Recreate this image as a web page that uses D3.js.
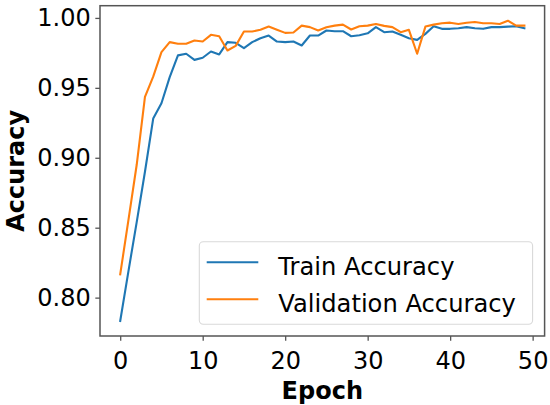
<!DOCTYPE html>
<html>
<head>
<meta charset="utf-8">
<script src="https://cdn.jsdelivr.net/npm/d3@7"></script>
<style>
  html, body { margin: 0; padding: 0; background: #fff; }
  svg { display: block; font-family: "DejaVu Sans", sans-serif; }
</style>
</head>
<body>
<svg id="chart" width="550" height="405"></svg>
<script>
const epochs = d3.range(0, 50);
const trainAccuracy = [0.7833, 0.819, 0.854, 0.890, 0.928, 0.939, 0.9577, 0.9732, 0.9744, 0.970,
  0.9715, 0.976, 0.9739, 0.9827, 0.9822, 0.9784, 0.9827, 0.9855, 0.9874, 0.9831,
  0.9827, 0.9831, 0.9803, 0.9874, 0.9874, 0.991, 0.9905, 0.9905, 0.9869, 0.9876,
  0.989, 0.9934, 0.9898, 0.9903, 0.9879, 0.9855, 0.9843, 0.9886, 0.994, 0.9922,
  0.9922, 0.9926, 0.9934, 0.9926, 0.9922, 0.9934, 0.9934, 0.9938, 0.994, 0.9926];
const valAccuracy = [0.8166, 0.8556, 0.895, 0.9435, 0.958, 0.9755, 0.9827, 0.9815, 0.9815, 0.9838,
  0.9831, 0.9879, 0.9869, 0.9767, 0.980, 0.9903, 0.9903, 0.9915, 0.9938, 0.9915,
  0.9893, 0.9896, 0.9945, 0.9934, 0.991, 0.9933, 0.9945, 0.9952, 0.9917, 0.994,
  0.9945, 0.9957, 0.9943, 0.9934, 0.9898, 0.9915, 0.9744, 0.9938, 0.9952, 0.9962,
  0.9966, 0.9957, 0.9966, 0.9971, 0.9962, 0.9962, 0.9957, 0.998, 0.9945, 0.9945];
const xTicks = [0, 10, 20, 30, 40, 50];
const yTicks = [0.80, 0.85, 0.90, 0.95, 1.00];
const seriesNames = ["Train Accuracy", "Validation Accuracy"];
const seriesColors = ["#1f77b4", "#ff7f0e"];

const svg = d3.select("#chart");
const plot = { left: 100, right: 544.6, top: 5.7, bottom: 336 };

const xMin = d3.min(epochs), xMax = d3.max(epochs);
const xPad = (xMax - xMin) * 0.05;
const x = d3.scaleLinear().domain([xMin - xPad, xMax + xPad]).range([plot.left, plot.right]);

const allY = trainAccuracy.concat(valAccuracy);
const yMin = d3.min(allY), yMax = d3.max(allY);
const yPad = (yMax - yMin) * 0.05;
const y = d3.scaleLinear().domain([yMin - yPad, yMax + yPad]).range([plot.bottom, plot.top]);

const tickLen = 4.67;
const axisColor = "#555";

// lines
const line = d3.line().x((d, i) => x(epochs[i])).y(d => y(d));
[trainAccuracy, valAccuracy].forEach((s, k) => {
  svg.append("path").datum(s)
    .attr("fill", "none")
    .attr("stroke", seriesColors[k])
    .attr("stroke-width", 2.1)
    .attr("stroke-linejoin", "round")
    .attr("stroke-linecap", "square")
    .attr("d", line);
});

// axes
const xAxis = svg.append("g")
  .attr("transform", `translate(0,${plot.bottom})`)
  .call(d3.axisBottom(x).tickValues(xTicks).tickSize(tickLen).tickPadding(11.3).tickFormat(d3.format("d")));
const yAxis = svg.append("g")
  .attr("transform", `translate(${plot.left},0)`)
  .call(d3.axisLeft(y).tickValues(yTicks).tickSize(tickLen).tickPadding(4.67).tickFormat(d3.format(".2f")));

[xAxis, yAxis].forEach(g => {
  g.select(".domain").remove();
  g.selectAll(".tick line").attr("stroke", axisColor).attr("stroke-width", 1.3);
  g.selectAll(".tick text").attr("fill", "#000").style("font-size", "24px").style("font-family", "DejaVu Sans");
});

// frame
svg.append("rect")
  .attr("x", plot.left).attr("y", plot.top)
  .attr("width", plot.right - plot.left).attr("height", plot.bottom - plot.top)
  .attr("fill", "none").attr("stroke", axisColor).attr("stroke-width", 1.5);

// axis labels
svg.append("text")
  .attr("x", (plot.left + plot.right) / 2).attr("y", 399)
  .attr("text-anchor", "middle")
  .style("font-size", "24px").style("font-weight", "bold")
  .text("Epoch");
svg.append("text")
  .attr("transform", `translate(23.5,${(plot.top + plot.bottom) / 2}) rotate(-90)`)
  .attr("text-anchor", "middle")
  .style("font-size", "24px").style("font-weight", "bold")
  .text("Accuracy");

// legend
const lg = svg.append("g");
lg.append("rect")
  .attr("x", 199.3).attr("y", 241.7).attr("width", 333.3).attr("height", 82.6)
  .attr("rx", 4).attr("ry", 4)
  .attr("fill", "#fff").attr("fill-opacity", 0.8)
  .attr("stroke", "#d9d9d9").attr("stroke-width", 1.1);
seriesNames.forEach((name, k) => {
  const ly = 262.3 + k * 37;
  lg.append("line")
    .attr("x1", 206.7).attr("x2", 258.3).attr("y1", ly).attr("y2", ly)
    .attr("stroke", seriesColors[k]).attr("stroke-width", 2.1);
  lg.append("text")
    .attr("x", 278.3).attr("y", ly + 12.8)
    .style("font-size", "24.2px")
    .text(name);
});
</script>
</body>
</html>
